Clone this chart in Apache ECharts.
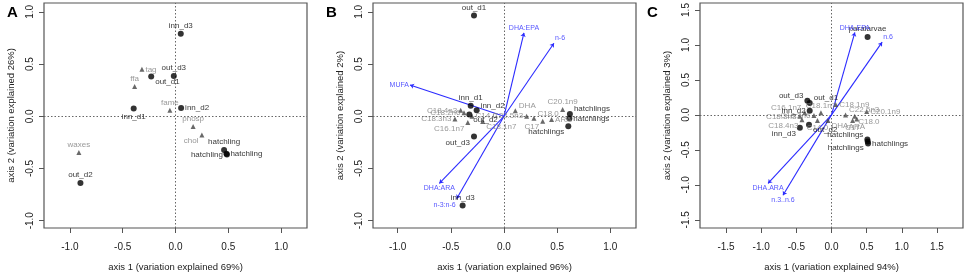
<!DOCTYPE html>
<html>
<head>
<meta charset="utf-8">
<script src="https://cdn.jsdelivr.net/npm/echarts@6/dist/echarts.min.js"></script>
<style>
  html, body { margin: 0; padding: 0; background: #fff; }
  #chart { width: 964px; height: 277px; }
</style>
</head>
<body>
<div id="chart"></div>
<script>
// ---- panel A: lipid classes ----
const aSiteNames = ["inn_d3", "out_d3", "out_d1", "inn_d1", "inn_d2", "hatchling", "hatchling", "hatchling", "out_d2"];
const aSiteX = [0.05, -0.016, -0.23, -0.396, 0.053, 0.46, 0.487, 0.482, -0.90];
const aSiteY = [0.79, 0.387, 0.38, 0.075, 0.079, -0.324, -0.365, -0.36, -0.64];
const aLipidNames = ["tag", "ffa", "fame", "phosp", "chol", "waxes"];
const aLipidX = [-0.318, -0.387, -0.053, 0.167, 0.25, -0.915];
const aLipidY = [0.45, 0.286, 0.057, -0.097, -0.18, -0.346];

// ---- panel B: fatty acids ----
const bSiteNames = ["out_d1", "inn_d1", "inn_d2", "out_d2", "out_d3", "inn_d3", "hatchlings", "hatchlings", "hatchlings"];
const bSiteX = [-0.282, -0.313, -0.257, -0.326, -0.282, -0.389, 0.62, 0.615, 0.605];
const bSiteY = [0.965, 0.10, 0.057, 0.016, -0.193, -0.855, 0.023, -0.022, -0.095];
const bAcidNames = ["C18.4n3", "C18.2n6", "C18.3n3", "C14.0", "C16.1n7", "C18.1n7", "DHA", "C22.5n3", "C18.0", "C17", "ARA", "C20.1n9"];
const bAcidX = [-0.407, -0.376, -0.461, -0.30, -0.34, -0.20, 0.107, 0.213, 0.282, 0.364, 0.448, 0.552];
const bAcidY = [0.057, 0.035, -0.025, 0.0, -0.06, -0.05, 0.054, 0.0, -0.02, -0.047, -0.03, 0.064];
const bRatioNames = ["DHA:EPA", "n-6", "MUFA", "DHA:ARA", "n-3:n-6"];
const bRatioX = [0.188, 0.47, -0.884, -0.608, -0.445];
const bRatioY = [0.80, 0.70, 0.30, -0.643, -0.79];

// ---- panel C: fatty acids ----
const cSiteNames = ["paralarvae", "out_d3", "out_d1", "inn_d2", "out_d2", "inn_d3", "hatchlings", "hatchlings", "hatchlings"];
const cSiteX = [0.513, -0.343, -0.31, -0.31, -0.32, -0.45, 0.51, 0.52, 0.515];
const cSiteY = [1.114, 0.203, 0.17, 0.06, -0.14, -0.185, -0.35, -0.41, -0.38];
const cAcidNames = ["C18.1n9", "C16.1n7", "C18.1n7", "C18.2n6", "C18.3n3", "C18.4n3", "C14.0", "DHA", "C22.5n3", "C20.1n9", "C18.0", "C17", "ARA"];
const cAcidX = [0.06, -0.38, -0.15, -0.25, -0.45, -0.42, -0.2, -0.05, 0.2, 0.5, 0.33, 0.3, 0.36];
const cAcidY = [0.147, 0.03, 0.03, -0.01, -0.02, -0.07, -0.08, -0.08, 0.0, 0.05, -0.02, -0.08, -0.06];
const cRatioNames = ["DHA.EPA", "n.6", "DHA.ARA", "n.3..n.6"];
const cRatioX = [0.332, 0.72, -0.903, -0.69];
const cRatioY = [1.18, 1.04, -0.98, -1.15];

const ticksAB = [-1, -0.5, 0, 0.5, 1];
const ticksC = [-1.5, -1, -0.5, 0, 0.5, 1, 1.5];
const panelLetters = ["A", "B", "C"];
const xTitles = ["axis 1 (variation explained 69%)", "axis 1 (variation explained 96%)", "axis 1 (variation explained 94%)"];
const yTitles = ["axis 2 (variation explained 26%)", "axis 2 (variation explained 2%)", "axis 2 (variation explained 3%)"];

// label placement (style only)
const aSitePos = ["t", "t", "br", "b", "r", "t", "l", "r", "t"];
const aLipidPos = ["r", "t", "t", "t", "bl", "t"];
const bSitePos = ["t", "t", "tr", "br", "bl", "t", "tr", "r", "bl"];
const bAcidPos = ["l", "l", "l", "r", "bl", "br", "tr", "l", "tr", "bl", "r", "t"];
const bRatioPos = ["t", "tr", "l", "b", "bl"];
const cSitePos = ["t", "tl", "tr", "l", "br", "bl", "tl", "r", "bl"];
const cAcidPos = ["r", "tl", "t", "l", "l", "bl", "b", "br", "tr", "r", "br", "b", "b"];
const cRatioPos = ["t", "tr", "b", "b"];

const FONT = "Liberation Sans, Arial, sans-serif";
const chart = echarts.init(document.getElementById("chart"));

function labelFor(p, color, size) {
    const map = {
        t: ["top", [0, 0]], b: ["bottom", [0, 0]], l: ["left", [0, 0]], r: ["right", [0, 0]],
        tl: ["left", [0, -5]], tr: ["right", [0, -5]], bl: ["left", [0, 6]], br: ["right", [0, 5]]
    };
    const m = map[p];
    return { show: true, position: m[0], offset: m[1], distance: 1, color: color, fontSize: size, fontFamily: FONT };
}

function pointSeries(gi, names, xs, ys, pos, symbol, size, color, labelColor, fontSize, withZeroLines) {
    const s = {
        type: "scatter",
        xAxisIndex: gi, yAxisIndex: gi,
        symbol: symbol, symbolSize: size,
        itemStyle: { color: color },
        data: names.map((n, i) => ({ value: [xs[i], ys[i]], name: n, label: Object.assign(labelFor(pos[i], labelColor, fontSize), { formatter: n }) })),
        z: 5
    };
    if (withZeroLines) {
        s.markLine = {
            silent: true, symbol: ["none", "none"], label: { show: false },
            lineStyle: { type: [1.5, 2], color: "#666", width: 1 },
            data: [{ xAxis: 0 }, { yAxis: 0 }],
            z: 1
        };
    }
    return s;
}

function arrowSeries(gi, xs, ys) {
    return {
        type: "lines", coordinateSystem: "cartesian2d",
        xAxisIndex: gi, yAxisIndex: gi,
        symbol: ["none", "arrow"], symbolSize: 4,
        lineStyle: { color: "#2b2bff", width: 1.1, opacity: 1 },
        data: xs.map((x, i) => ({ coords: [[0, 0], [x, ys[i]]] })),
        z: 4
    };
}

const gridLeft = [44, 373, 700];
const xRange = [[-1.245, 1.245], [-1.232, 1.242], [-1.87, 1.87]];
const yRange = [[-1.07, 1.085], [-1.07, 1.085], [-1.617, 1.6]];
const tickSets = [ticksAB, ticksAB, ticksC];

const grids = [], xAxes = [], yAxes = [];
for (let i = 0; i < 3; i++) {
    grids.push({ left: gridLeft[i], top: 3, width: 263, height: 226, show: true, borderColor: "#555", borderWidth: 1.2, backgroundColor: "transparent" });
    const common = {
        type: "value", gridIndex: i,
        splitLine: { show: false },
        axisLine: { show: false, onZero: false },
        axisTick: { show: true, inside: false, length: 5, customValues: tickSets[i], lineStyle: { color: "#555", width: 1 } },
        nameLocation: "middle",
        nameTextStyle: { fontFamily: FONT, fontSize: 9.5, color: "#222" }
    };
    xAxes.push(Object.assign({}, common, {
        min: xRange[i][0], max: xRange[i][1],
        name: xTitles[i], nameGap: 34,
        axisLabel: { customValues: tickSets[i], margin: 14, fontFamily: FONT, fontSize: 10, color: "#222", formatter: v => v.toFixed(1) }
    }));
    yAxes.push(Object.assign({}, common, {
        min: yRange[i][0], max: yRange[i][1],
        name: yTitles[i], nameGap: 28, nameRotate: 90,
        axisLabel: { customValues: tickSets[i], margin: 9, rotate: 90, fontFamily: FONT, fontSize: 10, color: "#222", formatter: v => v.toFixed(1) }
    }));
}

const series = [
    pointSeries(0, aLipidNames, aLipidX, aLipidY, aLipidPos, "triangle", 5, "#444", "#808080", 8, true),
    pointSeries(0, aSiteNames, aSiteX, aSiteY, aSitePos, "circle", 6, "#000", "#000", 8, false),
    arrowSeries(1, bRatioX, bRatioY),
    pointSeries(1, bAcidNames, bAcidX, bAcidY, bAcidPos, "triangle", 5, "#444", "#808080", 8, true),
    pointSeries(1, bSiteNames, bSiteX, bSiteY, bSitePos, "circle", 6, "#000", "#000", 8, false),
    pointSeries(1, bRatioNames, bRatioX, bRatioY, bRatioPos, "circle", 0, "#2b2bff", "#2b2bff", 7, false),
    arrowSeries(2, cRatioX, cRatioY),
    pointSeries(2, cAcidNames, cAcidX, cAcidY, cAcidPos, "triangle", 5, "#444", "#808080", 8, true),
    pointSeries(2, cSiteNames, cSiteX, cSiteY, cSitePos, "circle", 6, "#000", "#000", 8, false),
    pointSeries(2, cRatioNames, cRatioX, cRatioY, cRatioPos, "circle", 0, "#2b2bff", "#2b2bff", 7, false)
];

chart.setOption({
    animation: false,
    title: panelLetters.map((t, i) => ({
        text: t, left: [2, 321, 642][i], top: 0,
        textStyle: { fontFamily: FONT, fontWeight: "bold", fontSize: 15, color: "#000" }
    })),
    grid: grids,
    xAxis: xAxes,
    yAxis: yAxes,
    series: series
});
</script>
</body>
</html>
